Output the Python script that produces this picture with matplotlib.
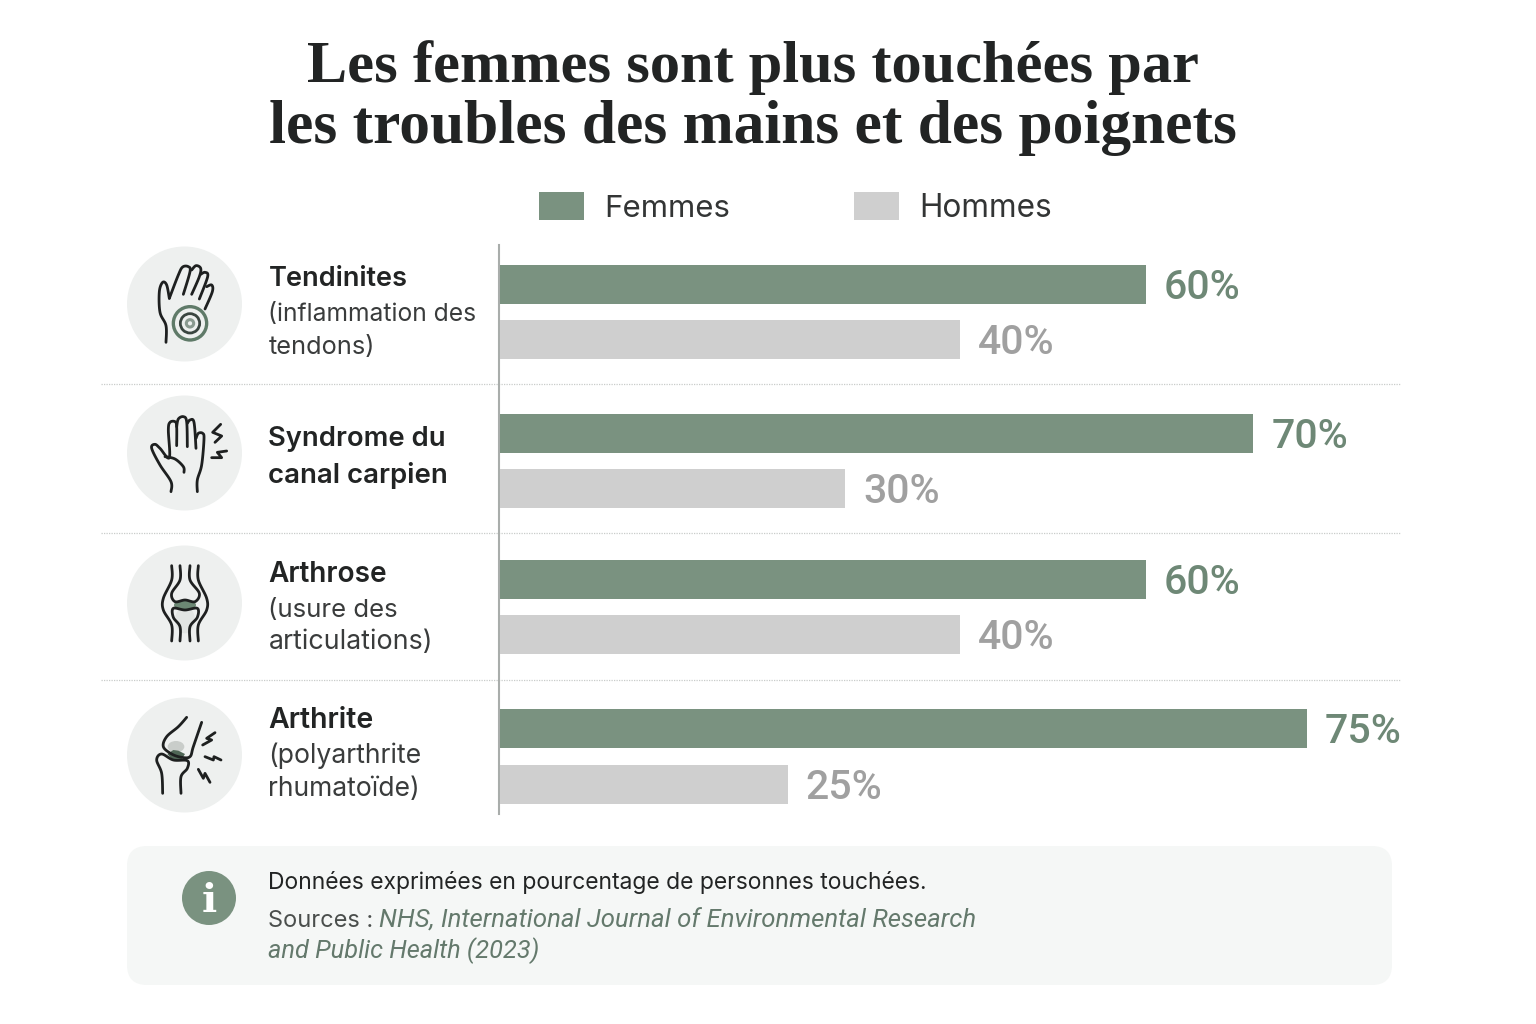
import numpy as np
import matplotlib
matplotlib.use('Agg')
import matplotlib.pyplot as plt
from matplotlib.patches import Circle, FancyBboxPatch, Rectangle, Ellipse, Polygon

W, H = 1536, 1024

title_lines = ['Les femmes sont plus touchées par', 'les troubles des mains et des poignets']
series_names = ['Femmes', 'Hommes']
femmes = [60, 70, 60, 75]
hommes = [40, 30, 40, 25]
names = ['Tendinites', 'Syndrome du', 'Arthrose', 'Arthrite']
details = [['(inflammation des', 'tendons)'], ['canal carpien'], ['(usure des', 'articulations)'],
           ['(polyarthrite', 'rhumatoïde)']]
note = 'Données exprimées en pourcentage de personnes touchées.'
source_head = 'Sources :'
source_lines = ['NHS, International Journal of Environmental Research', 'and Public Health (2023)']

GREEN = '#7A9280'
GREEN_TXT = '#6E8876'
GREY = '#CFCFCF'
GREY_TXT = '#A0A0A0'
INK = '#222424'
CIRCLE = '#EEF0EF'
PANEL = '#F5F7F6'

plt.rcParams['font.family'] = ['Inter', 'DejaVu Sans']


def px(size):
    return size * 0.72


fig = plt.figure(figsize=(W / 100, H / 100), dpi=100, facecolor='white')
page = fig.add_axes([0, 0, 1, 1])
page.set_xlim(0, W)
page.set_ylim(H, 0)
page.axis('off')

# title
title_y = [82, 143]
title_size = [60.4, 61.4]
for line, y, s in zip(title_lines, title_y, title_size):
    page.text(752.5, y, line, ha='center', va='baseline', family='Liberation Serif', weight='bold',
              fontsize=px(s), color=INK)

# legend
page.add_patch(Rectangle((539, 192), 45, 28, color=GREEN, lw=0))
page.add_patch(Rectangle((854, 192), 45, 28, color=GREY, lw=0))
page.text(604, 217, series_names[0], fontsize=px(31.2), color='#333535', va='baseline')
page.text(919, 217, series_names[1], fontsize=px(31.6), color='#333535', va='baseline')

# row separators and baseline
for y in [384, 533, 680]:
    page.plot([101, 1401], [y, y], color='#C9CCCA', lw=0.9, ls=(0, (1, 1)))
page.plot([499, 499], [245, 814], color='#A9ADAB', lw=1.5)

# bars, each series on its own x scale
bar_left = 500
ax_f = fig.add_axes([bar_left / W, 0, (W - bar_left) / W, 1], facecolor='none')
ax_h = fig.add_axes([bar_left / W, 0, (W - bar_left) / W, 1], facecolor='none')
ax_f.set_xlim(0, (W - bar_left) / 10.76)
ax_h.set_xlim(0, (W - bar_left) / 11.5)
f_y = [284, 433, 579, 728]
h_y = [339, 488, 634, 784]
for ax, vals, ys, col, tcol in [(ax_f, femmes, f_y, GREEN, GREEN_TXT), (ax_h, hommes, h_y, GREY, GREY_TXT)]:
    ax.set_ylim(H, 0)
    ax.axis('off')
    ax.barh(ys, vals, height=39, color=col)
    for v, y in zip(vals, ys):
        ax.annotate(f'{v}%', (v, y), xytext=(px(18), -px(15)), textcoords='offset points', va='baseline',
                    family='Roboto', weight='medium', fontsize=px(41), color=tcol)

# row labels
name_y = [286, 445.5, 581.5, 728]
name_size = [27.2, 27.4, 28, 28.5]
detail_y = [[320.5, 354], [483], [616.5, 649], [763, 796]]
detail_size = [[24.6, 25.4], [27.6], [25.8, 26.8], [26.6, 26.5]]
for i in range(4):
    page.text(268.5, name_y[i], names[i], fontsize=px(name_size[i]), weight='semibold', color=INK, va='baseline')
    for line, y, s in zip(details[i], detail_y[i], detail_size[i]):
        heavy = i == 1
        page.text(268.5, y, line, fontsize=px(s), weight='semibold' if heavy else 'normal',
                  color=INK if heavy else '#3A3C3C', va='baseline')

# icon badges
for cy in [304, 453, 603, 755]:
    page.add_patch(Circle((184.5, cy), 57.5, color=CIRCLE, lw=0))


def smooth(pts, n=10):
    # Catmull-Rom through the given points
    p = np.array(pts, dtype=float)
    p = np.vstack([p[0], p, p[-1]])
    out = []
    for i in range(1, len(p) - 2):
        for t in np.linspace(0, 1, n, endpoint=False):
            out.append(0.5 * (2 * p[i] + (p[i + 1] - p[i - 1]) * t
                              + (2 * p[i - 1] - 5 * p[i] + 4 * p[i + 1] - p[i + 2]) * t ** 2
                              + (3 * p[i] - p[i - 1] - 3 * p[i + 1] + p[i + 2]) * t ** 3))
    out.append(p[-2])
    return np.array(out)


def stroke(pts, ox, oy, curved=True, lw=2.0, color='#1E2020'):
    xy = smooth(pts) if curved else np.array(pts, dtype=float)
    page.plot(ox + xy[:, 0] / 3, oy + xy[:, 1] / 3, color=color, lw=lw, solid_capstyle='round',
              solid_joinstyle='round', zorder=5)


# tendinitis hand
ox, oy = 110, 235
stroke([(168, 322), (168, 272), (150, 232), (148, 170), (158, 142), (170, 150), (178, 190)], ox, oy)
stroke([(178, 190), (205, 120), (218, 96), (235, 95), (240, 110), (220, 178)], ox, oy)
stroke([(245, 105), (258, 92), (272, 100), (268, 125), (245, 178)], ox, oy)
stroke([(272, 118), (285, 112), (293, 125), (268, 192)], ox, oy)
stroke([(290, 155), (305, 150), (307, 170), (285, 222)], ox, oy)
for r, c, lw in [(50, '#5F7A68', 2.4), (29, '#3A4540', 2.0), (11, '#8A9A90', 2.2)]:
    page.add_patch(Circle((ox + 240 / 3, oy + 265 / 3), r / 3, fill=False, ec=c, lw=lw, zorder=5))

# carpal tunnel hand
stroke([(183, 770), (183, 740), (150, 690), (125, 640), (135, 628), (150, 640), (178, 668), (175, 585),
        (180, 562), (195, 560), (200, 575), (200, 632)], ox, oy)
stroke([(200, 575), (205, 552), (220, 545), (230, 560), (232, 635)], ox, oy)
stroke([(232, 565), (240, 555), (252, 562), (258, 640)], ox, oy)
stroke([(258, 610), (265, 595), (278, 595), (282, 612), (275, 690), (262, 735), (262, 770)], ox, oy)
stroke([(165, 665), (195, 672), (220, 695), (222, 712)], ox, oy)
stroke([(332, 568), (308, 592), (335, 603), (315, 622)], ox, oy, curved=False)
stroke([(350, 648), (322, 652), (335, 668), (305, 668)], ox, oy, curved=False)

# osteoarthritis joint
ox, oy = 110, 530
page.add_patch(Ellipse((ox + 225 / 3, oy + 270 / 3), 60 / 3, 80 / 3, color='#E2E5E3', lw=0, zorder=4))
page.add_patch(Ellipse((ox + 225 / 3, oy + 225 / 3), 66 / 3, 32 / 3, color='#6C8874', lw=0, zorder=4))
stroke([(185, 107), (185, 150), (160, 205), (160, 240), (185, 285), (185, 333)], ox, oy)
stroke([(265, 107), (265, 150), (290, 205), (290, 240), (265, 285), (265, 333)], ox, oy)
stroke([(210, 107), (210, 150), (185, 190), (195, 215), (225, 210), (255, 215), (268, 190), (240, 150),
        (240, 107)], ox, oy)
stroke([(210, 333), (210, 290), (190, 262), (190, 235), (225, 240), (262, 235), (262, 262), (240, 290),
        (240, 333)], ox, oy)

# rheumatoid joint
page.add_patch(Ellipse((ox + 198 / 3, oy + 650 / 3), 50 / 3, 34 / 3, color='#C9CDCA', lw=0, zorder=4))
page.add_patch(Polygon(np.array([(172, 672), (190, 660), (205, 662), (225, 672), (212, 692), (188, 690)]) / 3
                       + [ox, oy], color='#4F6656', lw=0, zorder=4))
stroke([(230, 562), (205, 590), (170, 620), (160, 650), (185, 672), (215, 682), (240, 680), (250, 650),
        (275, 577)], ox, oy)
stroke([(158, 790), (155, 730), (140, 690), (155, 672), (190, 690), (232, 692), (232, 715), (213, 740),
        (213, 790)], ox, oy)
stroke([(315, 608), (290, 625), (305, 630), (278, 645)], ox, oy, curved=False)
stroke([(285, 680), (310, 690), (312, 680), (333, 690)], ox, oy, curved=False)
stroke([(265, 718), (280, 745), (285, 730), (300, 757)], ox, oy, curved=False)

# note panel
page.add_patch(FancyBboxPatch((147, 866), 1225, 99, boxstyle='round,pad=20,rounding_size=20', fc=PANEL, ec='none'))
page.add_patch(Circle((209, 898), 27, color=GREEN, lw=0))
page.text(209, 912, 'i', ha='center', va='baseline', family='DejaVu Serif', weight='bold', fontsize=px(40),
          color='white')
page.text(268.5, 889, note, fontsize=px(22.9), color=INK, va='baseline')
page.text(268.5, 927, source_head, fontsize=px(23.6), color='#4A4E4C', va='baseline')
page.text(379, 927.5, source_lines[0], fontsize=px(25.7), style='italic', family='Roboto', color='#64796C',
          va='baseline')
page.text(268.5, 958, source_lines[1], fontsize=px(25.4), style='italic', family='Roboto', color='#64796C',
          va='baseline')

fig.savefig('out.png', dpi=100, facecolor='white')
